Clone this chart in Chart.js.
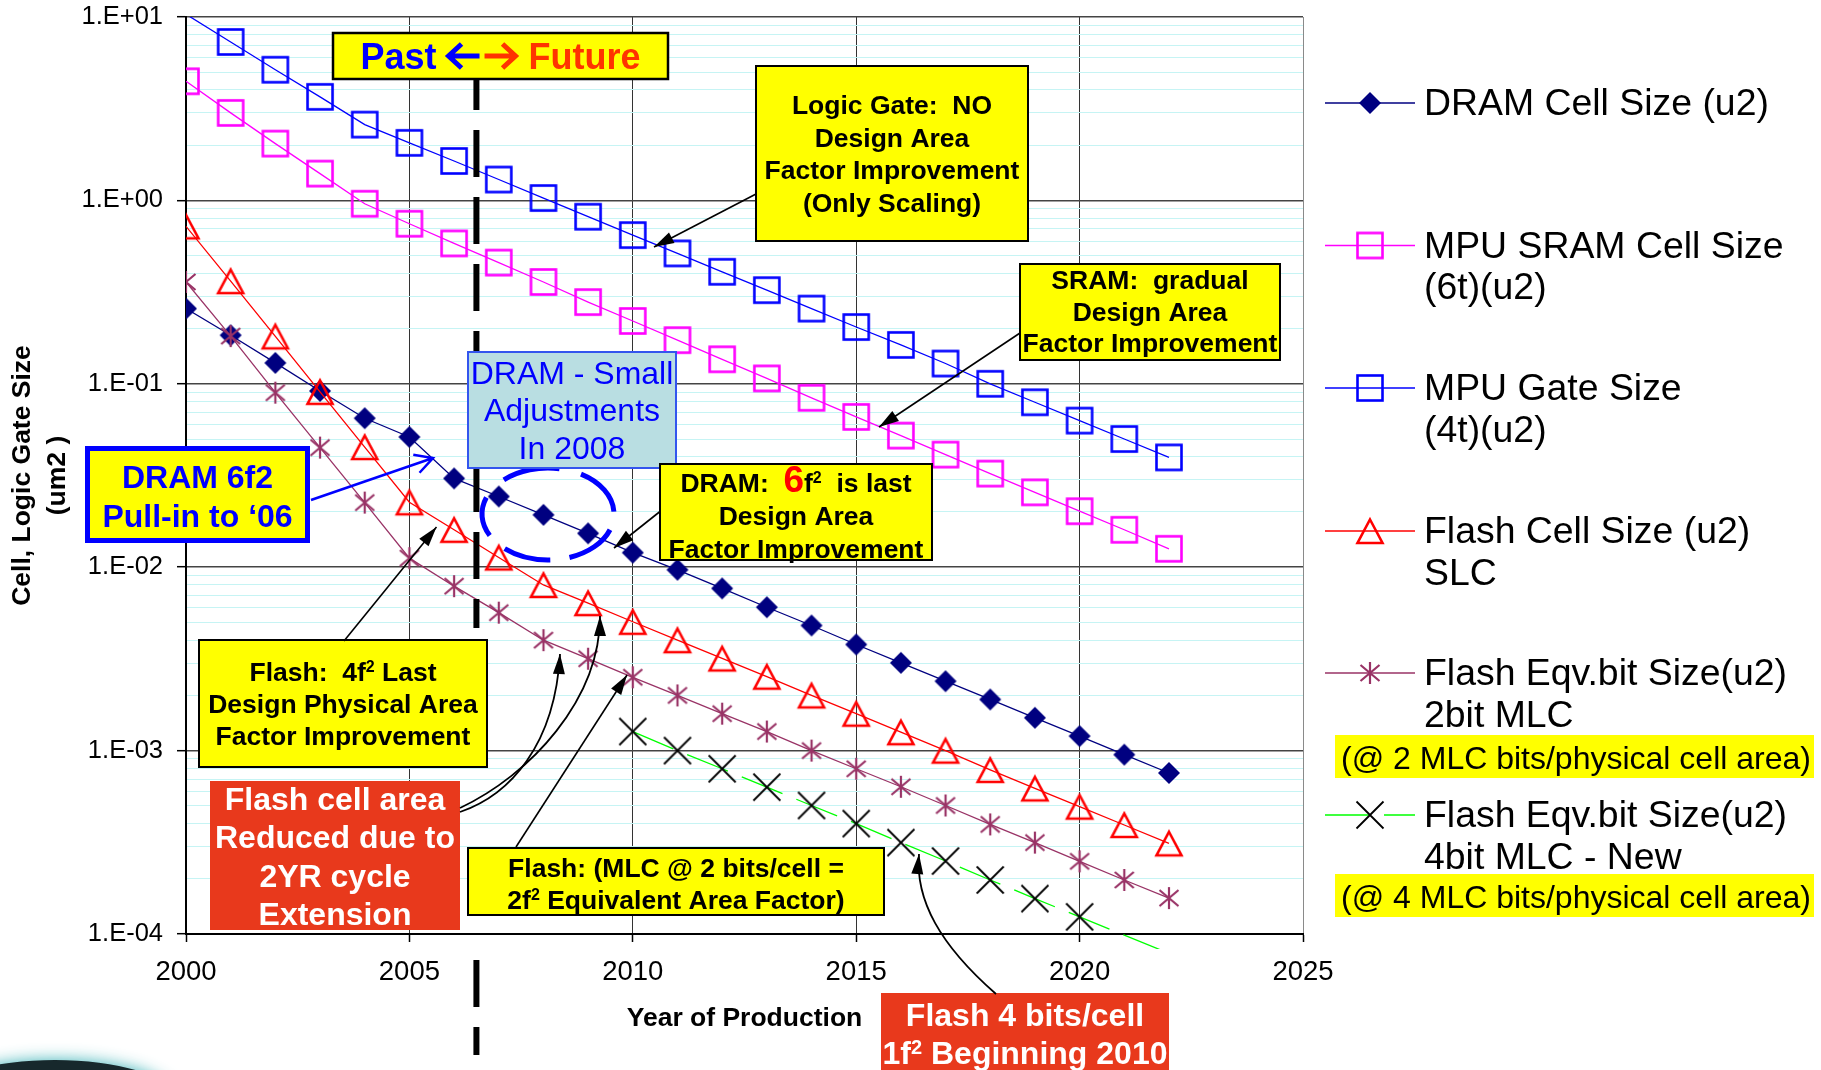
<!DOCTYPE html>
<html lang="en">
<head>
<meta charset="utf-8">
<title>Cell / Logic Gate Size Roadmap</title>
<script src="https://cdn.jsdelivr.net/npm/chart.js@4.4.1/dist/chart.umd.min.js"></script>
<style>
    html, body { margin: 0; padding: 0; background: #ffffff; }
    #chartBox { position: relative; width: 1821px; height: 1070px; }
</style>
</head>
<body>
<div id="chartBox"><canvas id="roadmapChart" width="1821" height="1070"></canvas></div>
<script>
// ==============================================
// DATA (um2 per cell / gate, by year of production)
// ==============================================
const years = [2000, 2001, 2002, 2003, 2004, 2005, 2006, 2007, 2008, 2009, 2010, 2011,
               2012, 2013, 2014, 2015, 2016, 2017, 2018, 2019, 2020, 2021, 2022];
const mlc4Years = [2010, 2011, 2012, 2013, 2014, 2015, 2016, 2017, 2018, 2019, 2020, 2021, 2022];

const dramCell = [0.257, 0.184, 0.130, 0.0914, 0.0649, 0.0513, 0.0305, 0.0243, 0.0193, 0.0153,
                  0.0120, 0.00968, 0.00766, 0.00605, 0.00481, 0.00379, 0.00301, 0.00239,
                  0.00190, 0.00151, 0.00120, 0.00095, 0.000755];
const sramCell = [4.46, 3.00, 2.04, 1.40, 0.959, 0.746, 0.583, 0.458, 0.359, 0.279, 0.220,
                  0.173, 0.136, 0.107, 0.0839, 0.0660, 0.0522, 0.0411, 0.0324, 0.0256,
                  0.0202, 0.0160, 0.0126];
const mpuGate = [10.35, 7.31, 5.16, 3.67, 2.59, 2.06, 1.64, 1.30, 1.03, 0.815, 0.647, 0.514,
                 0.408, 0.324, 0.257, 0.204, 0.163, 0.129, 0.100, 0.0793, 0.0630, 0.0500, 0.0397];
const flashSlc = [0.722, 0.363, 0.1815, 0.0904, 0.0452, 0.0226, 0.0160, 0.0113, 0.0080, 0.00637,
                  0.00504, 0.0040, 0.00318, 0.00253, 0.0020, 0.00159, 0.00126, 0.0010,
                  0.000785, 0.000622, 0.000495, 0.000393, 0.000312];
const flashMlc2 = [0.359, 0.182, 0.0895, 0.0449, 0.0225, 0.0112, 0.00788, 0.00565, 0.0040,
                   0.00317, 0.00251, 0.0020, 0.00159, 0.00127, 0.0010, 0.000796, 0.000635,
                   0.000502, 0.000396, 0.000315, 0.000249, 0.000197, 0.000157];
const flashMlc4 = [0.00127, 0.0010, 0.000796, 0.000632, 0.000502, 0.0004, 0.000315, 0.00025,
                   0.000197, 0.000156, 0.000124, 0.0000985, 0.0000785];

const xTicks = [2000, 2005, 2010, 2015, 2020, 2025];
const yDecades = [1e-4, 1e-3, 1e-2, 1e-1, 1, 10];
const yDecadeLabels = ['1.E-04', '1.E-03', '1.E-02', '1.E-01', '1.E+00', '1.E+01'];
const eraYear = 2006.5;

const Y_MIN = yDecades[0];
const Y_MAX = yDecades[yDecades.length - 1];
const FONT = "'Liberation Sans', Arial, sans-serif";

Chart.defaults.font.family = FONT;
Chart.defaults.color = '#000000';

// ==============================================
// MARKERS
// ==============================================
function markerCanvas(draw) {
    const c = document.createElement('canvas');
    c.width = 34;
    c.height = 34;
    const g = c.getContext('2d');
    g.translate(17, 17);
    draw(g);
    return c;
}

const diamondMark = markerCanvas(g => {
    g.fillStyle = '#000080';
    g.beginPath();
    g.moveTo(0, -11); g.lineTo(11, 0); g.lineTo(0, 11); g.lineTo(-11, 0);
    g.closePath();
    g.fill();
});

function squareMark(color) {
    return markerCanvas(g => {
        g.strokeStyle = color;
        g.lineWidth = 2.6;
        g.strokeRect(-12.5, -12.5, 25, 25);
    });
}

const triangleMark = markerCanvas(g => {
    g.strokeStyle = '#ff0000';
    g.lineWidth = 2.6;
    g.lineJoin = 'miter';
    g.beginPath();
    g.moveTo(0, -11.5); g.lineTo(12.5, 12); g.lineTo(-12.5, 12);
    g.closePath();
    g.stroke();
});

const starMark = markerCanvas(g => {
    g.strokeStyle = '#993366';
    g.lineWidth = 2.2;
    g.beginPath();
    g.moveTo(0, -11); g.lineTo(0, 11);
    g.moveTo(-9.5, -8); g.lineTo(9.5, 8);
    g.moveTo(9.5, -8); g.lineTo(-9.5, 8);
    g.stroke();
});

const crossMark = markerCanvas(g => {
    g.strokeStyle = '#000000';
    g.lineWidth = 1.8;
    g.beginPath();
    g.moveTo(-13.5, -13.5); g.lineTo(13.5, 13.5);
    g.moveTo(13.5, -13.5); g.lineTo(-13.5, 13.5);
    g.stroke();
});

// ==============================================
// DATASETS
// ==============================================
function toPoints(xs, ys) {
    return xs.map((x, i) => ({ x: x, y: ys[i] }));
}

// markers are only shown for values inside the axis range
function radiusInRange(ys) {
    return ys.map(v => (v < Y_MIN || v > Y_MAX) ? 0 : 12);
}

function series(label, legendLines, xs, ys, color, marker, order, extra) {
    return Object.assign({
        label: label,
        legendLines: legendLines,
        data: toPoints(xs, ys),
        borderColor: color,
        backgroundColor: color,
        borderWidth: 1.3,
        pointStyle: marker,
        pointRadius: radiusInRange(ys),
        pointHoverRadius: radiusInRange(ys),
        tension: 0,
        fill: false,
        order: order
    }, extra || {});
}

const datasets = [
    series('DRAM Cell Size (u2)', ['DRAM Cell Size (u2)'],
        years, dramCell, '#000080', diamondMark, 6),
    series('MPU SRAM Cell Size (6t)(u2)', ['MPU SRAM Cell Size', '(6t)(u2)'],
        years, sramCell, '#ff00ff', squareMark('#ff00ff'), 5),
    series('MPU Gate Size (4t)(u2)', ['MPU Gate Size', '(4t)(u2)'],
        years, mpuGate, '#0000ff', squareMark('#0000ff'), 4),
    series('Flash Cell Size (u2) SLC', ['Flash Cell Size (u2)', 'SLC'],
        years, flashSlc, '#ff0000', triangleMark, 3),
    series('Flash Eqv.bit Size(u2) 2bit MLC', ['Flash Eqv.bit Size(u2)', '2bit MLC'],
        years, flashMlc2, '#993366', starMark, 2),
    series('Flash Eqv.bit Size(u2) 4bit MLC - New', ['Flash Eqv.bit Size(u2)', '4bit MLC - New'],
        mlc4Years, flashMlc4, '#00ff00', crossMark, 1,
        { borderDash: [44, 15], clip: { left: 0, top: 0, right: 0, bottom: 15 } })
];

// ==============================================
// DRAWING HELPERS
// ==============================================
function fontOf(p) {
    return p.weight + ' ' + p.size + 'px ' + FONT;
}

// text runs on one line; a run may carry its own size, colour, lift or draw function
function drawRuns(ctx, runs, x, capCenter, baseSize, align) {
    let total = 0;
    runs.forEach(r => {
        if (r.draw) { r.w = r.width; }
        else { ctx.font = fontOf(r); r.w = ctx.measureText(r.text).width; }
        total += r.w;
    });
    let cx = align === 'left' ? x : x - total / 2;
    const base = capCenter + baseSize * 0.358;
    ctx.textAlign = 'left';
    ctx.textBaseline = 'alphabetic';
    runs.forEach(r => {
        if (r.draw) {
            r.draw(ctx, cx, capCenter);
        } else {
            ctx.font = fontOf(r);
            ctx.fillStyle = r.color;
            ctx.fillText(r.text, cx, base + (r.dy || 0));
        }
        cx += r.w;
    });
}

// split a string at '²' and raise a smaller 2 there
function supRuns(text, size, weight, color) {
    const runs = [];
    const segs = text.split('\u00b2');
    segs.forEach((seg, i) => {
        if (seg) runs.push({ text: seg, size: size, weight: weight, color: color });
        if (i < segs.length - 1) {
            runs.push({ text: '2', size: Math.round(size * 0.62), weight: weight, color: color, dy: -size * 0.34 });
        }
    });
    return runs;
}

function textLine(ctx, text, x, capCenter, size, weight, color, align) {
    drawRuns(ctx, supRuns(text, size, weight, color), x, capCenter, size, align);
}

function lines(ctx, texts, cx, centers, size, weight, color) {
    texts.forEach((t, i) => textLine(ctx, t, cx, centers[i], size, weight, color));
}

function box(ctx, x, y, w, h, fill, stroke, lw) {
    ctx.fillStyle = fill;
    ctx.fillRect(x, y, w, h);
    if (stroke) {
        ctx.lineWidth = lw;
        ctx.strokeStyle = stroke;
        ctx.strokeRect(x, y, w, h);
    }
}

function arrowHead(ctx, fromX, fromY, tipX, tipY, color) {
    const a = Math.atan2(tipY - fromY, tipX - fromX);
    const len = 20, hw = 6;
    const bx = tipX - Math.cos(a) * len, by = tipY - Math.sin(a) * len;
    ctx.fillStyle = color;
    ctx.beginPath();
    ctx.moveTo(tipX, tipY);
    ctx.lineTo(bx + Math.sin(a) * hw, by - Math.cos(a) * hw);
    ctx.lineTo(bx - Math.sin(a) * hw, by + Math.cos(a) * hw);
    ctx.closePath();
    ctx.fill();
}

function arrow(ctx, x0, y0, x1, y1) {
    ctx.strokeStyle = '#000';
    ctx.lineWidth = 1.6;
    ctx.beginPath();
    ctx.moveTo(x0, y0);
    ctx.lineTo(x1, y1);
    ctx.stroke();
    arrowHead(ctx, x0, y0, x1, y1, '#000');
}

function curvedArrow(ctx, p0, c1, c2, p1) {
    ctx.strokeStyle = '#000';
    ctx.lineWidth = 1.8;
    ctx.beginPath();
    ctx.moveTo(p0[0], p0[1]);
    ctx.bezierCurveTo(c1[0], c1[1], c2[0], c2[1], p1[0], p1[1]);
    ctx.stroke();
    arrowHead(ctx, c2[0], c2[1], p1[0], p1[1], '#000');
}

function openArrow(ctx, x0, y0, x1, y1, color) {
    const a = Math.atan2(y1 - y0, x1 - x0);
    const len = 20, spread = 0.5;
    ctx.strokeStyle = color;
    ctx.lineWidth = 2.5;
    ctx.beginPath();
    ctx.moveTo(x0, y0);
    ctx.lineTo(x1, y1);
    ctx.moveTo(x1 - Math.cos(a - spread) * len, y1 - Math.sin(a - spread) * len);
    ctx.lineTo(x1, y1);
    ctx.lineTo(x1 - Math.cos(a + spread) * len, y1 - Math.sin(a + spread) * len);
    ctx.stroke();
}

// bold block arrow used between "Past" and "Future"
function blockArrow(color, pointLeft) {
    return {
        width: 36,
        draw(ctx, x, cy) {
            const l = x + 2, r = x + 33;
            const tip = pointLeft ? l : r, tail = pointLeft ? r : l;
            const back = pointLeft ? tip + 13 : tip - 13;
            ctx.strokeStyle = color;
            ctx.lineWidth = 5;
            ctx.lineJoin = 'miter';
            ctx.lineCap = 'butt';
            ctx.beginPath();
            ctx.moveTo(tail, cy);
            ctx.lineTo(tip + (pointLeft ? 2 : -2), cy);
            ctx.moveTo(back, cy - 12);
            ctx.lineTo(tip, cy);
            ctx.lineTo(back, cy + 12);
            ctx.stroke();
        }
    };
}

// ==============================================
// CALL-OUTS, ERA LINE AND LEGEND
// ==============================================
const annotationPlugin = {
    id: 'roadmapAnnotations',
    afterDatasetsDraw(chart) {
        const ctx = chart.ctx;
        ctx.save();

        // past / future divider
        const xEra = chart.scales.x.getPixelForValue(eraYear);
        ctx.strokeStyle = '#000';
        ctx.lineWidth = 6;
        ctx.setLineDash([47, 20]);
        ctx.beginPath(); ctx.moveTo(xEra, 63); ctx.lineTo(xEra, 628); ctx.stroke();
        ctx.beginPath(); ctx.moveTo(xEra, 960); ctx.lineTo(xEra, 1055); ctx.stroke();
        ctx.setLineDash([]);

        // dashed ring round the 2007-2009 DRAM points
        const D = Math.PI / 180;
        ctx.strokeStyle = '#0000ff';
        ctx.lineWidth = 5;
        [[-60, -3], [20, 71], [88, 131], [152, 201], [228, 280]].forEach(([a0, a1]) => {
            ctx.beginPath();
            ctx.ellipse(548, 514, 66, 46, 0, a0 * D, a1 * D);
            ctx.stroke();
        });

        // Past <-> Future
        box(ctx, 333, 33, 335, 46, '#ffff00', '#000', 2.5);
        drawRuns(ctx, [
            { text: 'Past ', size: 36, weight: 'bold', color: '#0000ff' },
            blockArrow('#0000ff', true),
            blockArrow('#ff3300', false),
            { text: ' Future', size: 36, weight: 'bold', color: '#ff3300' }
        ], 500.5, 56, 36);

        // Logic gate
        box(ctx, 756, 66, 272, 175, '#ffff00', '#000', 2);
        lines(ctx, ['Logic Gate:  NO', 'Design Area', 'Factor Improvement', '(Only Scaling)'],
            892, [105, 137.5, 170, 202.5], 26.5, 'bold', '#000');

        // SRAM
        box(ctx, 1020, 264, 260, 96, '#ffff00', '#000', 2);
        lines(ctx, ['SRAM:  gradual', 'Design Area', 'Factor Improvement'],
            1150, [280, 311.5, 343], 26.5, 'bold', '#000');

        // DRAM small adjustments
        box(ctx, 468, 352, 208, 116, '#b9dee2', '#3355ee', 2);
        lines(ctx, ['DRAM - Small', 'Adjustments', 'In 2008'],
            572, [372.5, 410, 447.5], 32, 'normal', '#0000ff');

        // DRAM 6f2 pull-in
        box(ctx, 87.5, 448.5, 220, 92, '#ffff00', '#0000ff', 5);
        lines(ctx, ['DRAM 6f2', 'Pull-in to \u201806'], 197.5, [477, 515.5], 32, 'bold', '#0000ff');

        // DRAM 6f2 is last
        box(ctx, 660, 464, 272, 96, '#ffff00', '#000', 2);
        drawRuns(ctx, [{ text: 'DRAM:  ', size: 26.5, weight: 'bold', color: '#000' },
                       { text: '6', size: 37, weight: 'bold', color: '#ff0000' }]
            .concat(supRuns('f\u00b2  is last', 26.5, 'bold', '#000')), 796, 482.5, 26.5);
        lines(ctx, ['Design Area', 'Factor Improvement'], 796, [516, 549], 26.5, 'bold', '#000');

        // Flash 4f2
        box(ctx, 199, 640, 288, 127, '#ffff00', '#000', 2);
        lines(ctx, ['Flash:  4f\u00b2 Last', 'Design Physical Area', 'Factor Improvement'],
            343, [672, 704, 736], 26.5, 'bold', '#000');

        // Flash 2YR cycle
        box(ctx, 210, 781, 250, 149, '#e8391c');
        lines(ctx, ['Flash cell area', 'Reduced due to', '2YR cycle', 'Extension'],
            335, [799, 837, 876, 913.5], 32, 'bold', '#ffffff');

        // Flash MLC
        box(ctx, 468, 848, 416, 67, '#ffff00', '#000', 2);
        lines(ctx, ['Flash: (MLC @ 2 bits/cell =', '2f\u00b2 Equivalent Area Factor)'],
            676, [867.5, 899.5], 26.5, 'bold', '#000');

        // Flash 4 bits/cell
        box(ctx, 881, 993, 288, 90, '#e8391c');
        lines(ctx, ['Flash 4 bits/cell', '1f\u00b2 Beginning 2010'],
            1025, [1015, 1053], 32, 'bold', '#ffffff');

        // pointers
        arrow(ctx, 756, 194, 654, 247);
        arrow(ctx, 1020, 333, 879, 427);
        arrow(ctx, 660, 511.5, 614, 548);
        arrow(ctx, 344, 641, 436.5, 527);
        arrow(ctx, 516, 847, 627, 675);
        curvedArrow(ctx, [460, 812], [510, 795], [555, 745], [560, 654]);
        curvedArrow(ctx, [460, 808], [530, 775], [600, 700], [600, 616]);
        curvedArrow(ctx, [996, 994], [940, 945], [915, 900], [919, 854]);
        openArrow(ctx, 311, 500, 433, 458, '#0000ff');

        // legend
        const rows = [102, 244.5, 387, 530, 672, 814];
        chart.data.datasets.forEach((ds, i) => {
            const y = rows[i] + 1;
            ctx.strokeStyle = ds.borderColor;
            ctx.lineWidth = 1.3;
            ctx.setLineDash(ds.borderDash || []);
            ctx.beginPath();
            ctx.moveTo(1325, y);
            ctx.lineTo(1415, y);
            ctx.stroke();
            ctx.setLineDash([]);
            ctx.drawImage(ds.pointStyle, 1370 - 17, y - 17);
            ds.legendLines.forEach((t, k) =>
                textLine(ctx, t, 1424, rows[i] + k * 41.5, 37.4, 'normal', '#000', 'left'));
        });
        [['(@ 2 MLC bits/physical cell area)', 735], ['(@ 4 MLC bits/physical cell area)', 874]]
            .forEach(([t, top]) => {
                box(ctx, 1335, top, 479, 43, '#ffff00');
                textLine(ctx, t, 1341, top + 22.5, 32, 'normal', '#000', 'left');
            });

        // corner of the slide logo
        ctx.shadowColor = 'rgba(40, 170, 175, 0.9)';
        ctx.shadowBlur = 16;
        ctx.fillStyle = '#17282c';
        ctx.beginPath();
        ctx.ellipse(55, 1095, 115, 35, 0, 0, Math.PI * 2);
        ctx.fill();
        ctx.shadowBlur = 0;

        ctx.restore();
    }
};

// ==============================================
// CHART
// ==============================================
function isDecade(v) {
    return yDecades.some(d => Math.abs(d - v) / d < 1e-6);
}

new Chart(document.getElementById('roadmapChart'), {
    type: 'line',
    data: { datasets: datasets },
    options: {
        responsive: false,
        animation: false,
        devicePixelRatio: 1,
        events: [],
        layout: { padding: { left: 0, top: 17, right: 518, bottom: 0 } },
        plugins: {
            legend: { display: false },
            tooltip: { enabled: false }
        },
        scales: {
            x: {
                type: 'linear',
                min: xTicks[0],
                max: xTicks[xTicks.length - 1],
                afterBuildTicks: scale => { scale.ticks = xTicks.map(v => ({ value: v })); },
                afterFit: scale => {
                    scale.height = 136;
                    scale.paddingLeft = 0;
                    scale.paddingRight = 0;
                },
                border: { color: '#000', width: 2 },
                grid: {
                    color: c => (c.tick && c.tick.value === 2025) ? '#8a8a8a' : '#333333',
                    lineWidth: 1,
                    tickLength: 8,
                    tickColor: '#000',
                    tickWidth: 1.5
                },
                ticks: {
                    autoSkip: false,
                    maxRotation: 0,
                    padding: 13.5,
                    font: { size: 27.5 },
                    callback: v => String(v)
                },
                title: {
                    display: true,
                    text: 'Year of Production',
                    font: { size: 26.5, weight: 'bold' },
                    padding: { top: 0, bottom: 35 }
                }
            },
            y: {
                type: 'logarithmic',
                min: Y_MIN,
                max: Y_MAX,
                afterBuildTicks: scale => {
                    const t = [];
                    yDecades.forEach((d, i) => {
                        t.push({ value: d });
                        if (i < yDecades.length - 1) {
                            for (let m = 2; m <= 9; m++) t.push({ value: d * m });
                        }
                    });
                    scale.ticks = t;
                },
                afterFit: scale => {
                    scale.width = 186;
                    scale.paddingTop = 0;
                    scale.paddingBottom = 0;
                },
                border: { color: '#000', width: 2 },
                grid: {
                    color: c => isDecade(c.tick.value) ? '#444444' : '#c6f4f4',
                    lineWidth: c => isDecade(c.tick.value) ? 1.4 : 1,
                    tickLength: 9,
                    tickColor: c => isDecade(c.tick.value) ? '#000' : 'rgba(0,0,0,0)',
                    tickWidth: 1.5
                },
                ticks: {
                    autoSkip: false,
                    padding: 14,
                    font: { size: 25.5 },
                    callback: v => {
                        const i = yDecades.findIndex(d => Math.abs(d - v) / d < 1e-6);
                        return i >= 0 ? yDecadeLabels[i] : '';
                    }
                },
                title: {
                    display: true,
                    text: ['Cell, Logic Gate Size', '(um2 )'],
                    font: { size: 26.5, weight: 'bold', lineHeight: 1.32 },
                    padding: { top: 5.5, bottom: 0 }
                }
            }
        }
    },
    plugins: [annotationPlugin]
});
</script>
</body>
</html>
